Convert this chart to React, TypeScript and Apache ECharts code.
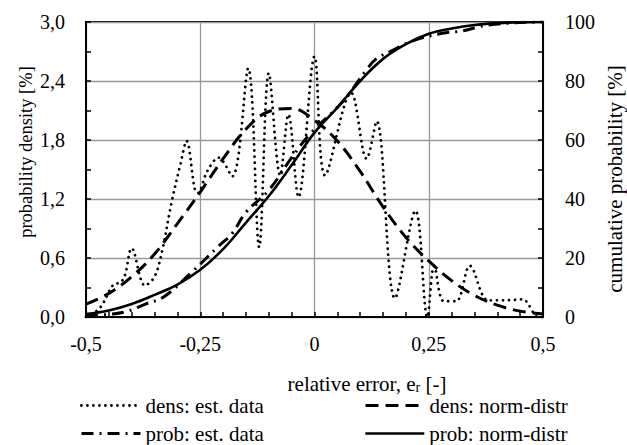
import React, { useEffect, useRef } from "react";
import * as echarts from "echarts";

const xTicks = [-0.5, -0.25, 0, 0.25, 0.5];

const normX = [-0.5, -0.45, -0.4, -0.35, -0.3, -0.25, -0.2, -0.15, -0.1, -0.05, 0, 0.05, 0.1, 0.15, 0.2, 0.25, 0.3, 0.35, 0.4, 0.45, 0.5];
const densNorm = [0.13, 0.24, 0.41, 0.64, 0.95, 1.27, 1.61, 1.91, 2.09, 2.12, 2.0, 1.79, 1.48, 1.12, 0.81, 0.57, 0.37, 0.22, 0.12, 0.06, 0.03];
const probNorm = [1.0, 2.2, 4.4, 7.5, 11, 16, 23, 32, 41, 51.5, 62.5, 71, 80, 87.5, 92.5, 96, 97.8, 99, 99.6, 99.9, 100];

const densEstX = [-0.5, -0.47, -0.44, -0.425, -0.415, -0.4, -0.371, -0.35, -0.333, -0.313, -0.293, -0.28, -0.262, -0.255, -0.235, -0.21, -0.18, -0.145, -0.121, -0.1, -0.075, -0.057, -0.035, 0.0, 0.023, 0.08, 0.114, 0.136, 0.176, 0.221, 0.247, 0.262, 0.283, 0.31, 0.34, 0.38, 0.42, 0.455, 0.49, 0.5];
const densEstY = [0.0, 0.09, 0.33, 0.35, 0.42, 0.7, 0.32, 0.41, 0.68, 1.16, 1.56, 1.79, 1.3, 1.26, 1.48, 1.62, 1.43, 2.53, 0.71, 2.48, 1.44, 2.06, 1.22, 2.65, 1.44, 2.28, 1.61, 1.99, 0.19, 1.08, 0.0, 0.52, 0.16, 0.16, 0.52, 0.17, 0.17, 0.18, 0.0, 0.0];

const probEstX = [-0.5, -0.45, -0.41, -0.37, -0.33, -0.27, -0.21, -0.18, -0.15, -0.1, -0.05, -0.01, 0.06, 0.115, 0.135, 0.17, 0.215, 0.28, 0.325, 0.36, 0.4, 0.45, 0.5];
const probEstY = [0.3, 0.9, 1.9, 4.4, 6.8, 15, 24, 28.4, 35.5, 43, 54, 62, 72.7, 84, 87.5, 90.3, 93.6, 96.2, 97, 98.4, 99.3, 99.8, 100];

const seriesNames = ["dens: est. data", "dens: norm-distr", "prob: est. data", "prob: norm-distr"];

const FONT = "Liberation Serif";

function pairs(xs: number[], ys: number[]) {
  return xs.map((x, i) => [x, ys[i]]);
}

export default function App() {
  const ref = useRef<HTMLDivElement>(null);
  useEffect(() => {
    if (!ref.current) return;
    const chart = echarts.init(ref.current, null, { renderer: "svg" });
    const dotStyle = { color: "#000", width: 2.8, type: [0.01, 6], cap: "round" as const };
    const dashStyle = { color: "#000", width: 3, type: [13, 7] };
    const dashDotStyle = { color: "#000", width: 3, type: [12, 6, 2, 6] };
    const solidStyle = { color: "#000", width: 2.6, type: "solid" as const };
    const legendBase = {
      orient: "horizontal" as const,
      itemWidth: 59,
      itemHeight: 14,
      textStyle: { fontFamily: FONT, fontSize: 21, color: "#000" },
      itemStyle: { opacity: 0, color: "transparent", borderWidth: 0 },
      padding: 0,
      selectedMode: false,
    };
    chart.setOption({
      animation: false,
      backgroundColor: "#fff",
      textStyle: { fontFamily: FONT },
      grid: { left: 86, right: 84, top: 22, bottom: 128, show: true, borderColor: "#000", borderWidth: 2, backgroundColor: "transparent" },
      legend: [
        { ...legendBase, data: [seriesNames[0]], left: 80, top: 395, lineStyle: { ...dotStyle } },
        { ...legendBase, data: [seriesNames[1]], left: 364, top: 395, lineStyle: { ...dashStyle } },
        { ...legendBase, data: [seriesNames[2]], left: 80, top: 423, lineStyle: { ...dashDotStyle } },
        { ...legendBase, data: [seriesNames[3]], left: 364, top: 423, lineStyle: { ...solidStyle } },
      ],
      xAxis: {
        type: "value",
        min: -0.5,
        max: 0.5,
        interval: 0.25,
        axisLine: { show: true, onZero: false, lineStyle: { color: "#000", width: 2 } },
        axisTick: { show: true, inside: true, length: 5, lineStyle: { color: "#000", width: 1.5 } },
        minorTick: { show: true, splitNumber: 5, length: 5, lineStyle: { color: "#000", width: 1.5 } },
        splitLine: { show: true, lineStyle: { color: "#999", width: 1.3 } },
        axisLabel: {
          margin: 17,
          fontFamily: FONT,
          fontSize: 20,
          color: "#000",
          customValues: xTicks,
          formatter: (v: number) => String(v).replace(".", ","),
        },
      },
      yAxis: [
        {
          type: "value",
          min: 0,
          max: 3,
          interval: 0.6,
          axisLine: { show: true, onZero: false, lineStyle: { color: "#000", width: 2 } },
          axisTick: { show: true, inside: true, length: 5, lineStyle: { color: "#000", width: 1.5 } },
          minorTick: { show: true, splitNumber: 2, length: 5, lineStyle: { color: "#000", width: 1.5 } },
          splitLine: { show: true, lineStyle: { color: "#999", width: 1.3 } },
          axisLabel: {
            margin: 21,
            fontFamily: FONT,
            fontSize: 20,
            color: "#000",
            formatter: (v: number) => v.toFixed(1).replace(".", ","),
          },
        },
        {
          type: "value",
          min: 0,
          max: 100,
          interval: 20,
          position: "right",
          axisLine: { show: true, onZero: false, lineStyle: { color: "#000", width: 2 } },
          axisTick: { show: true, inside: true, length: 5, lineStyle: { color: "#000", width: 1.5 } },
          minorTick: { show: true, splitNumber: 2, length: 5, lineStyle: { color: "#000", width: 1.5 } },
          splitLine: { show: false },
          axisLabel: { margin: 22, fontFamily: FONT, fontSize: 20, color: "#000" },
        },
      ],
      graphic: [
        {
          type: "text",
          x: 26,
          y: 152,
          rotation: Math.PI / 2,
          style: { text: "probability density [%]", fontFamily: FONT, fontSize: 18.5, fill: "#000", align: "center", verticalAlign: "middle" },
        },
        {
          type: "text",
          x: 615,
          y: 179,
          rotation: Math.PI / 2,
          style: { text: "cumulative probability [%]", fontFamily: FONT, fontSize: 21, fill: "#000", align: "center", verticalAlign: "middle" },
        },
        {
          type: "text",
          x: 367,
          y: 381,
          style: {
            text: "{a|relative error, e}{b|r}{a| [-]}",
            align: "center",
            verticalAlign: "middle",
            rich: {
              a: { fontFamily: FONT, fontSize: 21, fill: "#000", color: "#000", verticalAlign: "bottom", lineHeight: 26 },
              b: { fontFamily: FONT, fontSize: 14, fill: "#000", color: "#000", verticalAlign: "bottom", lineHeight: 14, padding: [12, 0, 0, 0] },
            },
          },
        },
      ],
      series: [
        {
          name: seriesNames[0],
          type: "line",
          yAxisIndex: 0,
          data: pairs(densEstX, densEstY),
          smooth: 0.35,
          symbol: "none",
          lineStyle: dotStyle,
          itemStyle: { color: "#000" },
        },
        {
          name: seriesNames[1],
          type: "line",
          yAxisIndex: 0,
          data: pairs(normX, densNorm),
          smooth: 0.4,
          symbol: "none",
          lineStyle: dashStyle,
          itemStyle: { color: "#000" },
        },
        {
          name: seriesNames[2],
          type: "line",
          yAxisIndex: 1,
          data: pairs(probEstX, probEstY),
          smooth: 0.4,
          symbol: "none",
          lineStyle: dashDotStyle,
          itemStyle: { color: "#000" },
        },
        {
          name: seriesNames[3],
          type: "line",
          yAxisIndex: 1,
          data: pairs(normX, probNorm),
          smooth: 0.4,
          symbol: "none",
          lineStyle: solidStyle,
          itemStyle: { color: "#000" },
        },
      ],
    });
    return () => chart.dispose();
  }, []);
  return <div ref={ref} style={{ position: "absolute", left: 0, top: 0, width: 627, height: 445 }} />;
}
